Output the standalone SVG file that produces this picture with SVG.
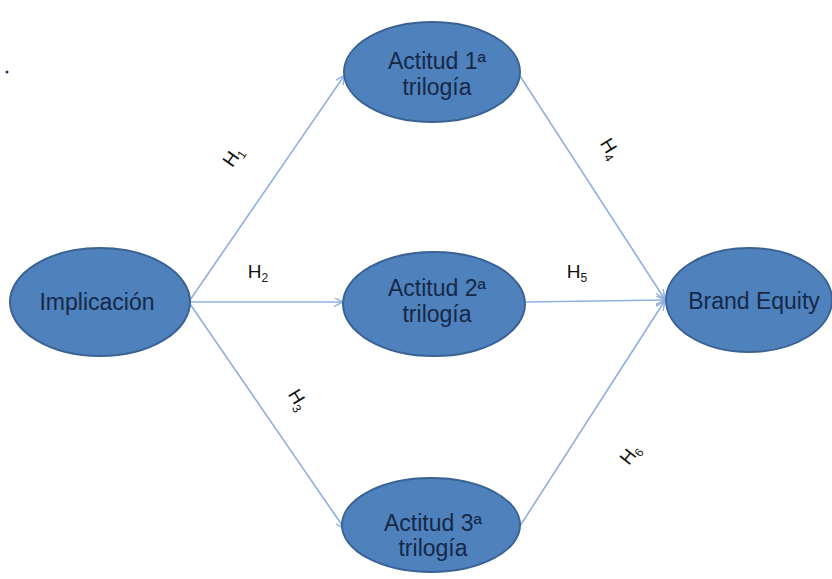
<svg xmlns="http://www.w3.org/2000/svg" width="832" height="579" viewBox="0 0 832 579">
<defs>
<style>
.node ellipse{fill:#4f81bd;stroke:#3a6394;stroke-width:2}
.node text{font-family:"Liberation Sans","Open Sans",sans-serif;font-size:23px;fill:#152848;text-anchor:middle}
.conn line{stroke:#8fb0de;stroke-width:1.6;fill:none}
.lbl{font-family:"Liberation Sans","Open Sans",sans-serif;font-size:19px;fill:#111111;text-anchor:middle}
.sub{font-size:12px}
</style>
<marker id="arr" viewBox="0 0 10 10" refX="9" refY="5" markerWidth="9" markerHeight="9" markerUnits="userSpaceOnUse" orient="auto">
<path d="M0,0 L10,5 L0,10" fill="none" stroke="#8fb0de" stroke-width="1.6"/>
</marker>
</defs>
<rect width="832" height="579" fill="#ffffff"/>
<circle cx="7" cy="72" r="1.5" fill="#1f3763"/>
<g class="conn" id="connectors">
<line x1="190" y1="300" x2="344" y2="76" marker-end="url(#arr)"/>
<line x1="190" y1="302" x2="342" y2="302" marker-end="url(#arr)"/>
<line x1="190" y1="304" x2="344" y2="528" marker-end="url(#arr)"/>
<line x1="520" y1="76" x2="664" y2="298" marker-end="url(#arr)"/>
<line x1="526" y1="302" x2="664" y2="300" marker-end="url(#arr)"/>
<line x1="520" y1="526" x2="664" y2="302" marker-end="url(#arr)"/>
</g>
<g id="labels">
<text class="lbl" transform="translate(238,160) rotate(-55)">H<tspan class="sub" dy="4">1</tspan></text>
<text class="lbl" x="258" y="278">H<tspan class="sub" dy="4">2</tspan></text>
<text class="lbl" transform="translate(293,403) rotate(58)">H<tspan class="sub" dy="4">3</tspan></text>
<text class="lbl" transform="translate(605,152) rotate(58)">H<tspan class="sub" dy="4">4</tspan></text>
<text class="lbl" x="577" y="278">H<tspan class="sub" dy="4">5</tspan></text>
<text class="lbl" transform="translate(635,458) rotate(-52)">H<tspan class="sub" dy="4">6</tspan></text>
</g>
<g class="node" id="implicacion">
<ellipse cx="100" cy="302" rx="90" ry="54"/>
<text x="97" y="310">Implicación</text>
</g>
<g class="node" id="actitud1">
<ellipse cx="432" cy="72" rx="88" ry="50"/>
<text x="437" y="69">Actitud 1ª</text>
<text x="437" y="95">trilogía</text>
</g>
<g class="node" id="actitud2">
<ellipse cx="434" cy="304" rx="91" ry="52"/>
<text x="437" y="296">Actitud 2ª</text>
<text x="437" y="322">trilogía</text>
</g>
<g class="node" id="actitud3">
<ellipse cx="431" cy="525" rx="89" ry="47"/>
<text x="433" y="531">Actitud 3ª</text>
<text x="433" y="556">trilogía</text>
</g>
<g class="node" id="brandequity">
<ellipse cx="749" cy="300" rx="83" ry="52"/>
<text x="754" y="309">Brand Equity</text>
</g>
</svg>
